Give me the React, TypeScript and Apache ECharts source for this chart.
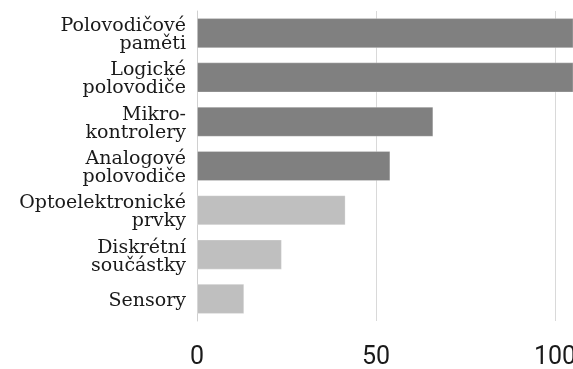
import React, { useEffect, useRef } from "react";
import * as echarts from "echarts";

const categories = [
  "Polovodičové\npaměti",
  "Logické\npolovodiče",
  "Mikro-\nkontrolery",
  "Analogové\npolovodiče",
  "Optoelektronické\nprvky",
  "Diskrétní\nsoučástky",
  "Sensory",
];
const values = [110, 110, 66, 54, 41.5, 23.7, 13.2];
const barColors = ["#808080", "#808080", "#808080", "#808080", "#bfbfbf", "#bfbfbf", "#bfbfbf"];
const xTicks = [0, 50, 100];

export default function App() {
  const ref = useRef<HTMLDivElement>(null);
  useEffect(() => {
    document.body.style.margin = "0";
    document.body.style.overflow = "hidden";
    document.documentElement.style.overflow = "hidden";
    const chart = echarts.init(ref.current!, null, { renderer: "svg" });
    chart.setOption({
      animation: false,
      grid: { left: 197, right: 0, top: 11, bottom: 48, outerBoundsMode: "none", containLabel: false },
      xAxis: {
        type: "value",
        min: xTicks[0],
        max: 105,
        interval: 50,
        axisLine: { show: false },
        axisTick: { show: false },
        splitLine: { lineStyle: { color: "#d9d9d9", width: 1 } },
        axisLabel: {
          color: "#1a1a1a",
          fontFamily: "Roboto",
          fontSize: 25,
          margin: 22,
          formatter: (v: number) => (xTicks.includes(v) ? String(v) : ""),
        },
      },
      yAxis: {
        type: "category",
        inverse: true,
        data: categories,
        axisLine: { show: true, lineStyle: { color: "#d0d0d0", width: 1 } },
        axisTick: { show: false },
        axisLabel: {
          color: "#1a1a1a",
          fontFamily: "DejaVu Serif",
          fontSize: 19,
          lineHeight: 18,
          margin: 11,
          align: "right",
          padding: [0, 0, 3, 0],
        },
      },
      series: [
        {
          type: "bar",
          data: values.map((v, i) => ({ value: v, itemStyle: { color: barColors[i] } })),
          barCategoryGap: "32%",
          clip: true,
          itemStyle: { borderColor: "rgba(255,255,255,0.25)", borderWidth: 1 },
        },
      ],
    });
    return () => chart.dispose();
  }, []);
  return (
    <div
      ref={ref}
      style={{ position: "fixed", left: 0, top: 0, width: 573, height: 369 }}
    />
  );
}
